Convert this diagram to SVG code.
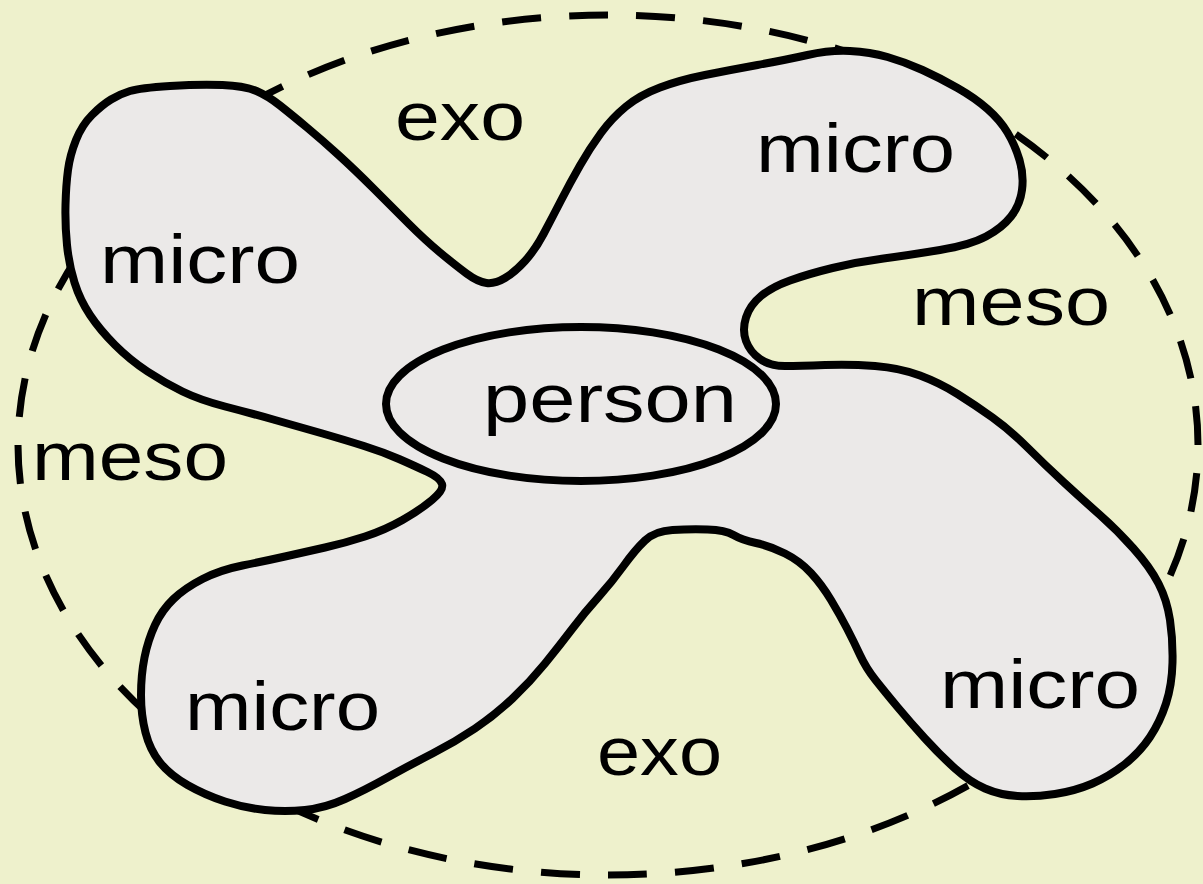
<svg xmlns="http://www.w3.org/2000/svg" width="1203" height="884" viewBox="0 0 1203 884">
  <style>
    .lbl { font-family: "Liberation Sans", Arial, sans-serif; font-size: 68px; fill: #000; }
    .blob { fill: #ebe9e8; stroke: #000; stroke-width: 8; stroke-linejoin: round; }
    .ring { fill: none; stroke: #000; stroke-width: 7; }
  </style>
  <rect width="1203" height="884" fill="#eef1cc"/>
  <g id="connectors">
    <path class="ring" pathLength="4800" stroke-dasharray="58 42" d="M 18 445 A 590 430 0 1 0 1198 445 A 590 430 0 1 0 18 445"/>
  </g>
  <g id="ecosystem">
    <path class="blob" d="M 130 91 Q 140 88 170 86 Q 200 84 222.5 85 Q 245 86 256.5 91 Q 268 96 280 105.5 Q 292 115 307 127.5 Q 322 140 338.5 155 Q 355 170 373.5 188.5 Q 392 207 408.5 223.5 Q 425 240 440 252.5 Q 455 265 466.5 273.5 Q 478 282 486.5 283 Q 495 284 505 278 Q 515 272 525 261 Q 535 250 543.5 234 Q 552 218 561 200.5 Q 570 183 580 165.5 Q 590 148 601 133 Q 612 118 626 106.5 Q 640 95 660 87.5 Q 680 80 705 75 Q 730 70 757.5 65 Q 785 60 807.5 55 Q 830 50 850 51 Q 870 52 887.5 57 Q 905 62 922.5 70 Q 940 78 957.5 88 Q 975 98 987.5 109 Q 1000 120 1007.5 132.5 Q 1015 145 1019.5 160 Q 1024 175 1022 190 Q 1020 205 1011 216.5 Q 1002 228 986 236.5 Q 970 245 940 250 Q 910 255 883.5 258.5 Q 857 262 832.5 268 Q 808 274 790 280.5 Q 772 287 761 296 Q 750 305 746 317.5 Q 742 330 746 341 Q 750 352 760 359 Q 770 366 785 366 Q 800 366 825 365 Q 850 364 875 366 Q 900 368 920 375.5 Q 940 383 957.5 394 Q 975 405 992.5 417.5 Q 1010 430 1027.5 447.5 Q 1045 465 1064 482.5 Q 1083 500 1100 515 Q 1117 530 1133.5 548.5 Q 1150 567 1158.5 583.5 Q 1167 600 1170 620 Q 1173 640 1172.5 662.5 Q 1172 685 1166 703.5 Q 1160 722 1150 737 Q 1140 752 1125 764 Q 1110 776 1092.5 783.5 Q 1075 791 1055 794 Q 1035 797 1017.5 796 Q 1000 795 985 788.5 Q 970 782 955 768.5 Q 940 755 925 738.5 Q 910 722 897.5 707 Q 885 692 875.5 680 Q 866 668 860 655 Q 854 642 847 628.5 Q 840 615 831 600 Q 822 585 811 573 Q 800 561 785 553.5 Q 770 546 756 543 Q 742 540 733.5 535 Q 725 530 707.5 529.5 Q 690 529 672.5 530 Q 655 531 645 540.5 Q 635 550 623.5 566 Q 612 582 598.5 597 Q 585 612 572.5 628.5 Q 560 645 545 663.5 Q 530 682 512.5 698.5 Q 495 715 475 728.5 Q 455 742 432.5 753.5 Q 410 765 387.5 777.5 Q 365 790 345 799 Q 325 808 305 810 Q 285 812 265 810 Q 245 808 225 801.5 Q 205 795 187.5 785 Q 170 775 160 762.5 Q 150 750 145.5 732.5 Q 141 715 141 695 Q 141 675 144.5 657.5 Q 148 640 155 625 Q 162 610 173.5 599 Q 185 588 202.5 579 Q 220 570 242.5 565.5 Q 265 561 285 556.5 Q 305 552 325 547.5 Q 345 543 365 536.5 Q 385 530 402.5 520 Q 420 510 432 500 Q 444 490 442 484 Q 440 478 427.5 472 Q 415 466 399 459 Q 383 452 364 446 Q 345 440 322.5 433.5 Q 300 427 275 420 Q 250 413 225 406.5 Q 200 400 182.5 391.5 Q 165 383 147.5 371.5 Q 130 360 115 345 Q 100 330 90 315 Q 80 300 74.5 282.5 Q 69 265 67 245 Q 65 225 65.5 205 Q 66 185 68 170 Q 70 155 76 140 Q 82 125 92 115 Q 102 105 111 99.5 Q 120 94 130 91 Z"/>
  </g>
  <g id="person">
    <ellipse class="blob" cx="581" cy="404" rx="195" ry="77"/>
    <text class="lbl" x="483" y="422" textLength="254" lengthAdjust="spacingAndGlyphs">person</text>
  </g>
  <g id="micro-upper-left"><text class="lbl" x="100" y="283" textLength="200" lengthAdjust="spacingAndGlyphs">micro</text></g>
  <g id="micro-upper-right"><text class="lbl" x="756" y="172" textLength="199" lengthAdjust="spacingAndGlyphs">micro</text></g>
  <g id="micro-lower-left"><text class="lbl" x="185" y="730" textLength="195" lengthAdjust="spacingAndGlyphs">micro</text></g>
  <g id="micro-lower-right"><text class="lbl" x="940" y="708" textLength="200" lengthAdjust="spacingAndGlyphs">micro</text></g>
  <g id="exo-top"><text class="lbl" x="395" y="140" textLength="130" lengthAdjust="spacingAndGlyphs">exo</text></g>
  <g id="exo-bottom"><text class="lbl" x="597" y="775" textLength="125" lengthAdjust="spacingAndGlyphs">exo</text></g>
  <g id="meso-right"><text class="lbl" x="912" y="325" textLength="198" lengthAdjust="spacingAndGlyphs">meso</text></g>
  <g id="meso-left"><text class="lbl" x="32" y="480" textLength="196" lengthAdjust="spacingAndGlyphs">meso</text></g>
</svg>
